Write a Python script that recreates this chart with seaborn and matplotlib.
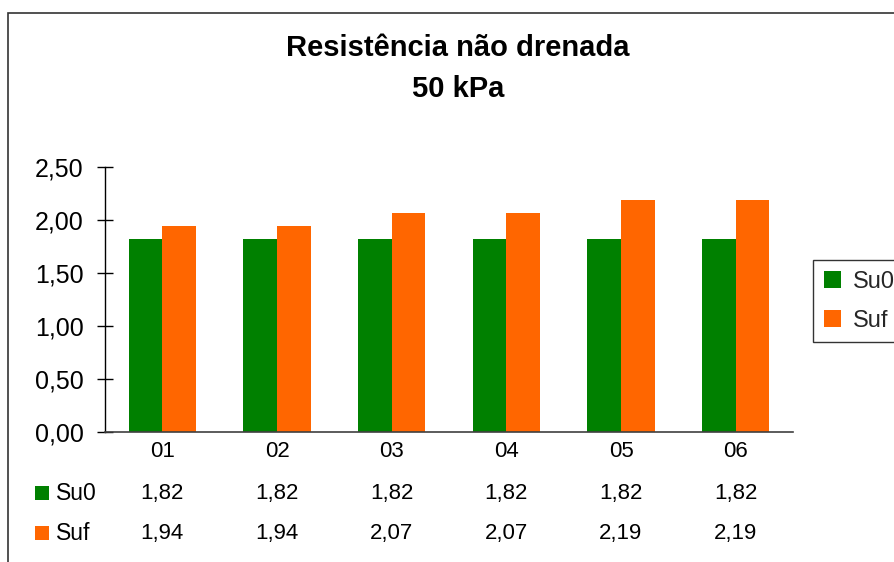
import matplotlib
matplotlib.use("Agg")
import matplotlib.pyplot as plt
import matplotlib.transforms as mtransforms
from matplotlib.patches import Rectangle
from matplotlib.ticker import FuncFormatter, MultipleLocator
import pandas as pd
import seaborn as sns

# Resistência não drenada, ensaios a 50 kPa
categories = ["01", "02", "03", "04", "05", "06"]
series_names = ["Su0", "Suf"]
su0_values = [1.82, 1.82, 1.82, 1.82, 1.82, 1.82]
suf_values = [1.94, 1.94, 2.07, 2.07, 2.19, 2.19]
series_colors = ["#008000", "#FF6600"]
title_lines = ["Resistência não drenada", "50 kPa"]

sns.set_theme(style="white")
plt.rcParams["font.family"] = ["Liberation Sans", "DejaVu Sans"]

df = pd.DataFrame({
    "amostra": categories * 2,
    "serie": [series_names[0]] * len(categories) + [series_names[1]] * len(categories),
    "valor": su0_values + suf_values,
})

W, H = 894, 562
fig = plt.figure(figsize=(W / 100, H / 100), dpi=100)
fig.patch.set_facecolor("white")

def fx(px):
    return px / W

def fy(py):
    return 1 - py / H

ax = fig.add_axes([fx(105), fy(432), fx(793) - fx(105), fy(167) - fy(432)])

sns.barplot(data=df, x="amostra", y="valor", hue="serie", order=categories,
            hue_order=series_names, palette=series_colors, width=0.585,
            saturation=1, errorbar=None, legend=False, ax=ax,
            edgecolor="none", linewidth=0)

ax.set_ylim(0, 2.5)
ax.set_xlim(-0.5, len(categories) - 0.5)
ax.yaxis.set_major_locator(MultipleLocator(0.5))
ax.yaxis.set_major_formatter(FuncFormatter(lambda v, _: f"{v:.2f}".replace(".", ",")))
ax.set_xlabel("")
ax.set_ylabel("")

for side in ["top", "right"]:
    ax.spines[side].set_visible(False)
ax.spines["left"].set_color("#000000")
ax.spines["left"].set_linewidth(1.0)
ax.spines["bottom"].set_color("#404040")
ax.spines["bottom"].set_linewidth(1.2)

ax.tick_params(axis="y", direction="inout", length=11.5, width=1.0, color="#000000",
               pad=9.5, labelsize=18, labelcolor="#000000", left=True)
ax.tick_params(axis="x", length=0, pad=6.5, labelsize=16, labelcolor="#000000")

# Title
fig.text(fx(458), fy(48), title_lines[0], ha="center", va="center",
         fontsize=21, fontweight="bold", color="#000000")
fig.text(fx(458), fy(89), title_lines[1], ha="center", va="center",
         fontsize=21, fontweight="bold", color="#000000")

# Data table under the axis
blend = mtransforms.blended_transform_factory(ax.transData, fig.transFigure)
row_y = [493, 533]
for name, color, vals, py in zip(series_names, series_colors, [su0_values, suf_values], row_y):
    fig.patches.append(Rectangle((fx(35), fy(py + 7)), fx(14), fy(py - 7) - fy(py + 7),
                                 transform=fig.transFigure, facecolor=color,
                                 edgecolor="none", figure=fig))
    fig.text(fx(56), fy(py), name, ha="left", va="center", fontsize=16.5, color="#000000")
    for i, v in enumerate(vals):
        ax.text(i, fy(py), f"{v:.2f}".replace(".", ","), transform=blend,
                ha="center", va="center", fontsize=16, color="#000000", clip_on=False)

# Legend
handles = [Rectangle((0, 0), 1, 1, facecolor=c, edgecolor="none") for c in series_colors]
leg = fig.legend(handles, series_names, loc="upper left",
                 bbox_to_anchor=(fx(813), fy(260)), fontsize=17,
                 frameon=True, fancybox=False, borderpad=0.45,
                 handlelength=0.75, handleheight=0.75, handletextpad=0.5,
                 labelspacing=0.72, borderaxespad=0)
leg.get_frame().set_edgecolor("#000000")
leg.get_frame().set_linewidth(1.0)

# Chart area border
fig.patches.append(Rectangle((fx(8), -0.1), 1.2, fy(13) + 0.1, transform=fig.transFigure,
                             facecolor="none", edgecolor="#333333", linewidth=1.2,
                             figure=fig))

fig.savefig("out.png", dpi=100, facecolor="white")
